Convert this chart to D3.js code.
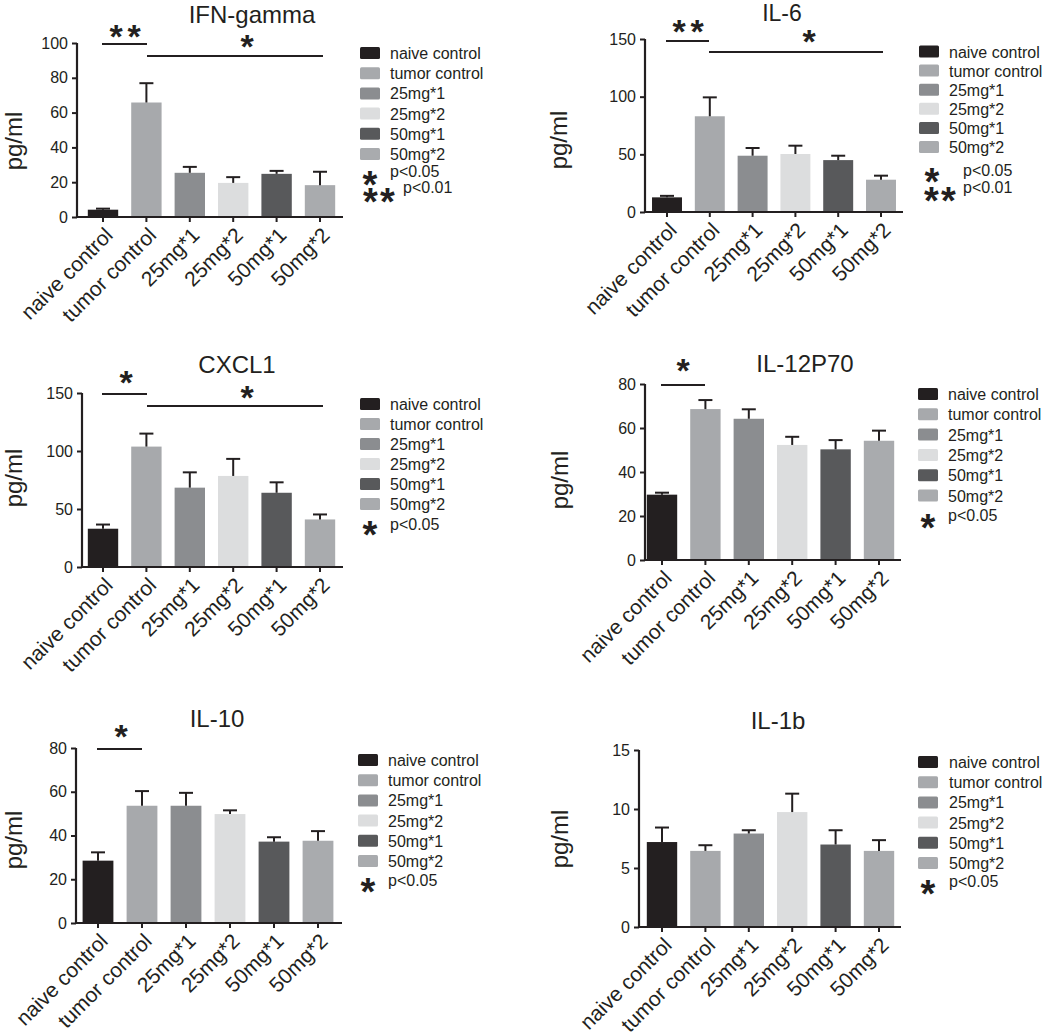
<!DOCTYPE html>
<html><head><meta charset="utf-8">
<script src="https://cdn.jsdelivr.net/npm/d3@7"></script>
<style>
body{margin:0;background:#fff}
svg{display:block}
text{font-family:"Liberation Sans",Arial,Helvetica,sans-serif;fill:#231f20}
</style>
</head><body>
<svg id="chart" width="1050" height="1035"></svg>
<script>
// ---------------- data ----------------
const categories = ["naive control", "tumor control", "25mg*1", "25mg*2", "50mg*1", "50mg*2"];
const barColors = ["#231f20", "#a7a9ac", "#8b8d90", "#dcddde", "#58595b", "#a9abae"];

const ifnMeans  = [4.2, 65.8, 25.4, 19.6, 24.8, 18.3];
const ifnUpper  = [4.8, 76.9, 28.8, 22.9, 26.5, 26.0];
const il6Means  = [12.7, 83.0, 48.8, 50.3, 45.0, 28.0];
const il6Upper  = [14.0, 99.4, 55.5, 57.5, 48.8, 31.5];
const cxclMeans = [33.0, 103.8, 68.4, 78.5, 64.0, 41.0];
const cxclUpper = [36.6, 115.0, 81.6, 93.2, 73.0, 45.3];
const il12Means = [29.7, 68.6, 64.2, 52.3, 50.3, 54.2];
const il12Upper = [30.6, 72.7, 68.5, 56.0, 54.5, 58.8];
const il10Means = [28.5, 53.6, 53.6, 49.8, 37.2, 37.6];
const il10Upper = [32.3, 60.3, 59.5, 51.5, 39.2, 42.0];
const il1bMeans = [7.2, 6.45, 7.92, 9.74, 6.99, 6.45];
const il1bUpper = [8.43, 6.93, 8.2, 11.3, 8.2, 7.36];

const titles = ["IFN-gamma", "IL-6", "CXCL1", "IL-12P70", "IL-10", "IL-1b"];
const yMaxes = [100, 150, 150, 80, 80, 15];
const yTicks = [[0,20,40,60,80,100],[0,50,100,150],[0,50,100,150],[0,20,40,60,80],[0,20,40,60,80],[0,5,10,15]];
const pLabels = ["p<0.05", "p<0.01"];
const yLabel = "pg/ml";

// ---------------- layout ----------------
const layouts = [
  {means: ifnMeans, upper: ifnUpper, axisX: 77, y0: 217, yTop: 43, c0: 103, step: 43.4, xEnd: 343,
   titleX: 252, titleY: 23, ylX: 22, ylY: 141,
   legSwX: 360, legY: 53, legDy: 20.2, legTx: 390,
   pv: [{n:1, sx:370, sy:176, tx:390, ty:177},{n:2, sx:379, sy:193, tx:403, ty:193}],
   sig: [{x1:102, x2:147, y:44, n:2, sx:125, sy:29},{x1:147, x2:323, y:56, n:1, sx:247, sy:39}]},
  {means: il6Means, upper: il6Upper, axisX: 645, y0: 212, yTop: 39, c0: 667, step: 42.8, xEnd: 903,
   titleX: 782, titleY: 21, ylX: 567, ylY: 140,
   legSwX: 919, legY: 51.5, legDy: 19.1, legTx: 949,
   pv: [{n:1, sx:932, sy:173, tx:963, ty:176},{n:2, sx:940, sy:192, tx:963, ty:193}],
   sig: [{x1:666, x2:709, y:41, n:2, sx:688, sy:24},{x1:709, x2:883, y:52, n:1, sx:809, sy:34}]},
  {means: cxclMeans, upper: cxclUpper, axisX: 82, y0: 567, yTop: 393, c0: 103, step: 43.4, xEnd: 343,
   titleX: 237, titleY: 373, ylX: 22, ylY: 478,
   legSwX: 360, legY: 404, legDy: 20, legTx: 390,
   pv: [{n:1, sx:370, sy:526, tx:390, ty:530}],
   sig: [{x1:102, x2:147, y:394, n:1, sx:126, sy:375},{x1:147, x2:323, y:406, n:1, sx:247, sy:390}]},
  {means: il12Means, upper: il12Upper, axisX: 645, y0: 560, yTop: 384, c0: 662, step: 43.4, xEnd: 901,
   titleX: 805, titleY: 372, ylX: 568, ylY: 480,
   legSwX: 918, legY: 394, legDy: 20.3, legTx: 948,
   pv: [{n:1, sx:928, sy:519, tx:948, ty:521}],
   sig: [{x1:661, x2:705, y:385, n:1, sx:683, sy:363}]},
  {means: il10Means, upper: il10Upper, axisX: 76, y0: 923, yTop: 748, c0: 98, step: 44, xEnd: 342,
   titleX: 217, titleY: 727, ylX: 22, ylY: 840,
   legSwX: 358, legY: 760, legDy: 20.2, legTx: 388,
   pv: [{n:1, sx:368, sy:883, tx:388, ty:886}],
   sig: [{x1:97, x2:142, y:749, n:1, sx:121, sy:729}]},
  {means: il1bMeans, upper: il1bUpper, axisX: 639, y0: 927, yTop: 750, c0: 662, step: 43.4, xEnd: 901,
   titleX: 778, titleY: 729, ylX: 568, ylY: 839,
   legSwX: 918, legY: 762, legDy: 20.2, legTx: 949,
   pv: [{n:1, sx:928, sy:885, tx:949, ty:887}],
   sig: []}
];

const svg = d3.select("#chart");
const ink = "#231f20";

function stars(g, cx, cy, n, size, gap) {
  const offs = n === 1 ? [0] : [-gap/2, gap/2];
  offs.forEach(o => {
    g.append("text").attr("x", cx + o).attr("y", cy + 0.57 * size)
      .attr("text-anchor", "middle").attr("font-size", size).attr("font-weight", "bold").text("*");
  });
}

layouts.forEach((L, k) => {
  const g = svg.append("g");
  const y = d3.scaleLinear().domain([0, yMaxes[k]]).range([L.y0, L.yTop]);
  const x = d3.scaleBand().domain(categories)
    .range([L.c0 - L.step/2, L.c0 + L.step*5.5]).paddingInner(0.3).paddingOuter(0.15);

  // bars
  g.selectAll("rect.bar").data(categories).join("rect")
    .attr("x", d => x(d)).attr("width", x.bandwidth())
    .attr("y", (d,i) => y(L.means[i])).attr("height", (d,i) => L.y0 - y(L.means[i]))
    .attr("fill", (d,i) => barColors[i]);

  // error bars
  categories.forEach((d,i) => {
    const cx = x(d) + x.bandwidth()/2;
    g.append("line").attr("x1", cx).attr("x2", cx).attr("y1", y(L.means[i])).attr("y2", y(L.upper[i]))
      .attr("stroke", ink).attr("stroke-width", 2);
    g.append("line").attr("x1", cx - 7).attr("x2", cx + 7).attr("y1", y(L.upper[i])).attr("y2", y(L.upper[i]))
      .attr("stroke", ink).attr("stroke-width", 2);
  });

  // y axis
  const ya = g.append("g").attr("transform", `translate(${L.axisX},0)`)
    .call(d3.axisLeft(y).tickValues(yTicks[k]).tickSize(5).tickPadding(4).tickSizeOuter(0));
  ya.select(".domain").attr("stroke", ink).attr("stroke-width", 2.2)
    .attr("d", `M0,${L.y0}V${L.yTop}`);
  ya.selectAll(".tick line").attr("stroke", ink).attr("stroke-width", 2);
  ya.selectAll(".tick text").attr("font-size", 16).attr("fill", ink)
    .style("font-family", '"Liberation Sans",Arial,sans-serif');

  // x axis
  const xa = g.append("g").attr("transform", `translate(0,${L.y0})`)
    .call(d3.axisBottom(x).tickSize(5).tickSizeOuter(0));
  xa.select(".domain").attr("stroke", ink).attr("stroke-width", 2.2)
    .attr("d", `M${L.axisX - 1},0H${L.xEnd}`);
  xa.selectAll(".tick line").attr("stroke", ink).attr("stroke-width", 2);
  xa.selectAll(".tick text").remove();
  categories.forEach(d => {
    const cx = x(d) + x.bandwidth()/2;
    g.append("text").attr("transform", `translate(${cx + 0.5},${L.y0 + 9}) rotate(-45)`)
      .attr("dy", "0.71em").attr("text-anchor", "end").attr("font-size", 21).text(d);
  });

  // title
  g.append("text").attr("x", L.titleX).attr("y", L.titleY).attr("text-anchor", "middle")
    .attr("font-size", k === 1 ? 23 : 24).text(titles[k]);

  // y label
  g.append("text").attr("transform", `translate(${L.ylX},${L.ylY}) rotate(-90)`)
    .attr("text-anchor", "middle").attr("font-size", 24).text(yLabel);

  // legend
  categories.forEach((d,i) => {
    const cy = L.legY + i * L.legDy;
    g.append("rect").attr("x", L.legSwX).attr("y", cy - 6).attr("width", 20).attr("height", 12)
      .attr("rx", 1.5).attr("fill", barColors[i]);
    g.append("text").attr("x", L.legTx).attr("y", cy + 6).attr("font-size", 16).text(d);
  });
  L.pv.forEach(p => {
    stars(g, p.sx, p.sy, p.n, 38, 17);
    g.append("text").attr("x", p.tx).attr("y", p.ty).attr("font-size", 16).text(pLabels[p.n - 1]);
  });

  // significance
  L.sig.forEach(s => {
    g.append("line").attr("x1", s.x1).attr("x2", s.x2).attr("y1", s.y).attr("y2", s.y)
      .attr("stroke", ink).attr("stroke-width", 2);
    stars(g, s.sx, s.sy, s.n, 34, 18);
  });
});
</script>
</body></html>
